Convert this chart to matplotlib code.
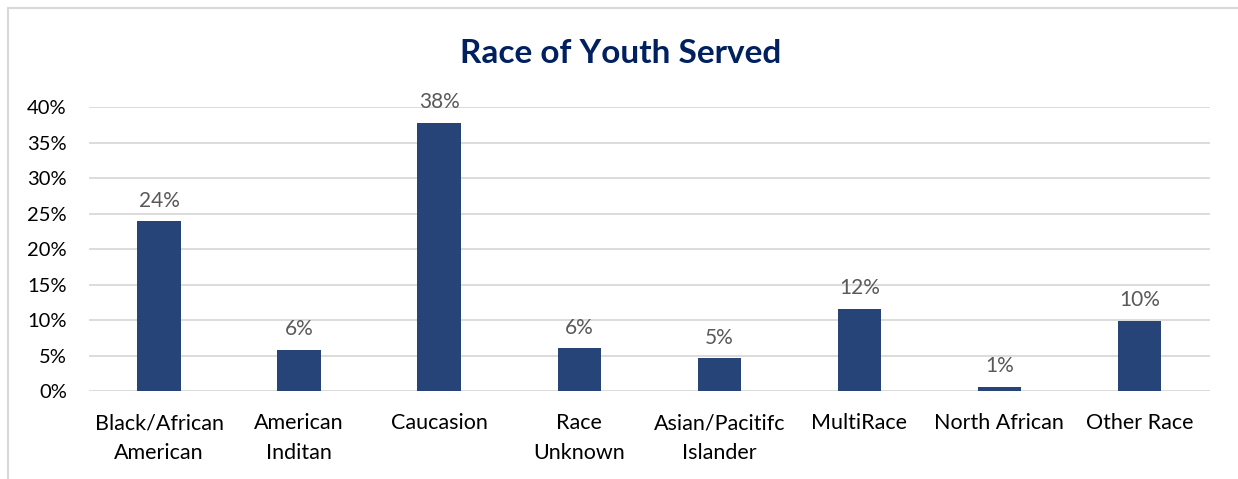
import matplotlib.pyplot as plt
from matplotlib.patches import Rectangle
from matplotlib.ticker import FuncFormatter

# race categories and share of youth served (percent)
categories = ["Black/African\nAmerican", "American\nInditan", "Caucasion", "Race\nUnknown",
              "Asian/Pacitifc\nIslander", "MultiRace", "North African", "Other Race"]
shares = [23.9, 5.8, 37.8, 6.0, 4.6, 11.6, 0.6, 9.9]
yticks = [0, 5, 10, 15, 20, 25, 30, 35, 40]

bar_color = "#264478"
font = ["Lato", "DejaVu Sans"]

fig = plt.figure(figsize=(12.38, 4.79), dpi=100)
ax = fig.add_axes([0.0719, 0.1837, 0.9051, 0.5929])

# light grey chart border (cut off on the right and bottom)
fig.patches.append(Rectangle((8 / 1238, -0.1), 1.2, 1 - 8 / 479 + 0.1,
                             transform=fig.transFigure, fill=False,
                             edgecolor="#d9d9d9", linewidth=1.5, zorder=0))

x = range(len(categories))
bars = ax.bar(x, shares, width=0.31, color=bar_color, zorder=3)

for xi, v in zip(x, shares):
    ax.text(xi, v + 1.5, "%.0f%%" % v, ha="center", va="bottom",
            fontsize=15, color="#595959", family=font)

ax.set_xlim(-0.5, len(categories) - 0.5)
ax.set_ylim(0, 40)
ax.set_yticks(yticks)
ax.yaxis.set_major_formatter(FuncFormatter(lambda v, p: "%d%%" % v))
ax.grid(axis="y", color="#d9d9d9", linewidth=1.3, zorder=0)
ax.set_xticks(list(x))
ax.set_xticklabels(categories, fontsize=15.5, family=font, linespacing=1.6)
for lab in ax.get_yticklabels():
    lab.set_family(font)
    lab.set_fontsize(14.5)
ax.tick_params(length=0)
ax.tick_params(axis="y", pad=16)
ax.tick_params(axis="x", pad=16)
for s in ax.spines.values():
    s.set_visible(False)

fig.text(0.501, 0.888, "Race of Youth Served", ha="center", va="center",
         fontsize=24, fontweight="bold", color="#002060", family=font)

fig.savefig("out.png", dpi=100)
